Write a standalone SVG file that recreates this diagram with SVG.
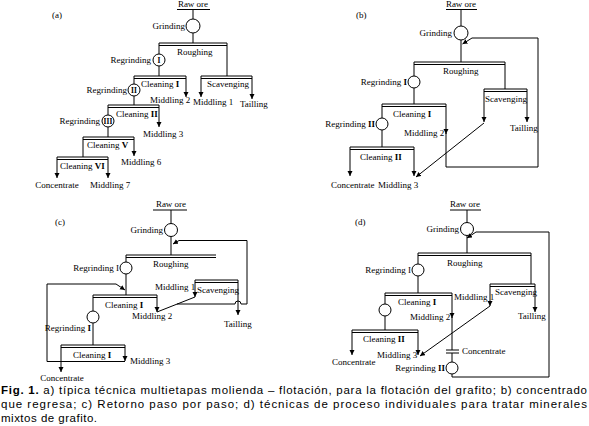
<svg xmlns="http://www.w3.org/2000/svg" width="589" height="426" viewBox="0 0 589 426">
<defs>
<marker id="ah" markerUnits="userSpaceOnUse" markerWidth="6" markerHeight="6" refX="5" refY="2.5" orient="auto"><path d="M0,0 L5,2.5 L0,5 z" fill="#000"/></marker>
<style>
.t{font-family:"Liberation Serif",serif;font-size:9px;fill:#000}
.e{text-anchor:end}
.m{text-anchor:middle}
.b{font-weight:bold}
.c{fill:#fff;stroke:#000;stroke-width:1}
.l{fill:none;stroke:#000;stroke-width:1}
.a{fill:none;stroke:#000;stroke-width:1;marker-end:url(#ah)}
.bar{fill:none;stroke:#000;stroke-width:1.1}
.n{font-family:"Liberation Serif",serif;font-size:7.5px;font-weight:bold;text-anchor:middle}
.cap{font-family:"Liberation Sans",Arial,sans-serif;font-size:11.5px;fill:#000}
</style>
</defs>
<rect width="589" height="426" fill="#fff"/>

<!-- Panel (a) -->
<g id="panel-a">
<text class="t" x="52" y="18">(a)</text>
<g id="a-raw"><text class="t m" x="193" y="7">Raw ore</text><path class="l" d="M177,9.5H210"/></g>
<g id="a-grinding"><circle class="c" cx="193" cy="26" r="7"/><text class="t e" x="185" y="29">Grinding</text></g>
<g id="a-roughing"><path class="bar" d="M159,43H227M159,45.5H227"/><text class="t" x="177" y="55">Roughing</text></g>
<g id="a-regrind1"><circle class="c" cx="159" cy="60" r="6"/><text class="n" x="159" y="62.7">I</text><text class="t e" x="151" y="63">Regrinding</text></g>
<g id="a-clean1"><path class="bar" d="M134,76H186M134,78.5H186"/><text class="t" x="141" y="87">Cleaning <tspan class="b">I</tspan></text></g>
<g id="a-scav"><path class="bar" d="M201,76H252M201,78.5H252"/><text class="t" x="207" y="87">Scavenging</text></g>
<g id="a-regrind2"><circle class="c" cx="134" cy="90" r="6"/><text class="n" x="134" y="92.7">II</text><text class="t e" x="127" y="93">Regrinding</text></g>
<g id="a-clean2"><path class="bar" d="M108,105H159M108,107.5H159"/><text class="t" x="116" y="117">Cleaning <tspan class="b">II</tspan></text></g>
<g id="a-regrind3"><circle class="c" cx="108" cy="121" r="6"/><text class="n" x="108" y="123.7">III</text><text class="t e" x="100" y="124">Regrinding</text></g>
<g id="a-clean5"><path class="bar" d="M83,137H134M83,139.5H134"/><text class="t" x="87" y="148">Cleaning <tspan class="b">V</tspan></text></g>
<g id="a-clean6"><path class="bar" d="M57,157H108M57,159.5H108"/><text class="t" x="60" y="169">Cleaning <tspan class="b">VI</tspan></text></g>
<g id="a-labels">
<text class="t" x="193" y="105">Middling 1</text>
<text class="t" x="240" y="107">Tailling</text>
<text class="t" x="150" y="103">Middling 2</text>
<text class="t" x="143" y="137">Middling 3</text>
<text class="t" x="121" y="165">Middling 6</text>
<text class="t m" x="57" y="188">Concentrate</text>
<text class="t" x="90" y="188">Middling 7</text>
</g>
<g id="a-connectors">
<path class="l" d="M193,9.5V19M193,33V43M159,43V54M159,66V76M227,43V76M134,76V84M134,96V105M108,105V115M108,127V137M83,137V157"/>
<path class="a" d="M186,76V97"/><path class="a" d="M201,76V97"/><path class="a" d="M252,76V99"/>
<path class="a" d="M159,105V127"/><path class="a" d="M134,137V156"/>
<path class="a" d="M57,157V178"/><path class="a" d="M108,157V178"/>
</g>
</g>

<!-- Panel (b) -->
<g id="panel-b">
<text class="t" x="356" y="18">(b)</text>
<g id="b-raw"><text class="t m" x="461" y="7">Raw ore</text><path class="l" d="M446,9.5H477"/></g>
<g id="b-grinding"><circle class="c" cx="461" cy="33" r="7"/><text class="t e" x="452" y="36">Grinding</text></g>
<g id="b-roughing"><path class="bar" d="M414,62H505M414,64.5H505"/><text class="t" x="443" y="74">Roughing</text></g>
<g id="b-regrind1"><circle class="c" cx="414" cy="82" r="6"/><text class="t e" x="407" y="85">Regrinding <tspan class="b">I</tspan></text></g>
<g id="b-clean1"><path class="bar" d="M382,104H446M382,106.5H446"/><text class="t" x="393" y="117">Cleaning <tspan class="b">I</tspan></text></g>
<g id="b-scav"><path class="bar" d="M484,89H527M484,91.5H527"/><text class="t" x="485" y="102">Scavenging</text></g>
<g id="b-regrind2"><circle class="c" cx="382" cy="124" r="6"/><text class="t e" x="375" y="127">Regrinding <tspan class="b">II</tspan></text></g>
<g id="b-clean2"><path class="bar" d="M350,147H414M350,149.5H414"/><text class="t" x="360" y="160">Cleaning <tspan class="b">II</tspan></text></g>
<g id="b-labels">
<text class="t" x="404" y="136">Middling 2</text>
<text class="t" x="510" y="131">Tailling</text>
<text class="t" x="331" y="188">Concentrate</text>
<text class="t" x="378" y="188">Middling 3</text>
</g>
<g id="b-connectors">
<path class="l" d="M461,9.5V26M461,40V62M414,62V76M414,88V104M505,62V89M382,104V118M382,130V147"/>
<path class="a" d="M446,104V134"/>
<path class="l" d="M446,133V167H538V38H472"/><path class="a" d="M472,38L462.5,44"/>
<path class="a" d="M484,89V122"/><path class="a" d="M527,89V122"/>
<path class="a" d="M484,123L416,177"/>
<path class="a" d="M350,147V176"/><path class="a" d="M414,147V176"/>
</g>
</g>

<!-- Panel (c) -->
<g id="panel-c">
<text class="t" x="55" y="225">(c)</text>
<g id="c-raw"><text class="t m" x="171" y="207">Raw ore</text><path class="l" d="M153,210H187"/></g>
<g id="c-grinding"><circle class="c" cx="171" cy="230" r="6.5"/><text class="t e" x="163" y="233">Grinding</text></g>
<g id="c-roughing"><path class="bar" d="M126,255H216M126,257.5H216"/><text class="t" x="153" y="267">Roughing</text></g>
<g id="c-regrind1"><circle class="c" cx="126" cy="268" r="6"/><text class="t e" x="119" y="271">Regrinding I</text></g>
<g id="c-scav"><path class="bar" d="M195,280H238M195,282.5H238"/><text class="t" x="197" y="293">Scavenging</text></g>
<g id="c-clean1"><path class="bar" d="M93,295H157M93,297.5H157"/><text class="t" x="105" y="308">Cleaning <tspan class="b">I</tspan></text></g>
<g id="c-regrind2"><circle class="c" cx="93" cy="317" r="6"/><text class="t e" x="91" y="331">Regrinding <tspan class="b">I</tspan></text></g>
<g id="c-clean2"><path class="bar" d="M61,345H125M61,347.5H125"/><text class="t" x="73" y="358">Cleaning <tspan class="b">I</tspan></text></g>
<g id="c-labels">
<text class="t" x="155" y="290">Middling 1</text>
<text class="t" x="132" y="319">Middling 2</text>
<text class="t" x="224" y="327">Tailling</text>
<text class="t" x="130" y="364">Middling 3</text>
<text class="t m" x="62" y="381">Concentrate</text>
</g>
<g id="c-connectors">
<path class="l" d="M171,210V223.5M171,236.5V255M126,255V262M126,274V295M93,295V311M93,323V345"/>
<path class="a" d="M179,240.5L173,244"/>
<path class="l" d="M179,240.5H247V304H241A3,3 0 0 0 235,304H177"/>
<path class="a" d="M195,280V297"/><path class="a" d="M238,280V315"/>
<path class="a" d="M157,295V312"/>
<path class="l" d="M157,312L195,297"/>
<path class="a" d="M125,345V361"/><path class="a" d="M61,345V372"/>
<path class="l" d="M125,361.5H47V284H116"/><path class="a" d="M116,284L125,290"/>
</g>
</g>

<!-- Panel (d) -->
<g id="panel-d">
<text class="t" x="355" y="225">(d)</text>
<g id="d-raw"><text class="t m" x="465" y="207">Raw ore</text><path class="l" d="M450,210H481"/></g>
<g id="d-grinding"><circle class="c" cx="467" cy="229" r="6.5"/><text class="t e" x="459" y="232">Grinding</text></g>
<g id="d-roughing"><path class="bar" d="M418,253H531M418,255.5H531"/><text class="t" x="447" y="266">Roughing</text></g>
<g id="d-regrind1"><circle class="c" cx="418" cy="270" r="6"/><text class="t e" x="411" y="273">Regrinding I</text></g>
<g id="d-scav"><path class="bar" d="M490,284H535M490,286.5H535"/><text class="t" x="495" y="295">Scavenging</text></g>
<g id="d-clean1"><path class="bar" d="M385,293H452M385,295.5H452"/><text class="t" x="398" y="305">Cleaning <tspan class="b">I</tspan></text></g>
<g id="d-regrind-a"><circle class="c" cx="385" cy="310" r="6"/></g>
<g id="d-clean2"><path class="bar" d="M352,330H418M352,332.5H418"/><text class="t" x="363" y="342">Cleaning <tspan class="b">II</tspan></text></g>
<g id="d-regrind2"><circle class="c" cx="452" cy="368" r="6"/><text class="t e" x="445" y="371">Regrinding <tspan class="b">II</tspan></text></g>
<g id="d-labels">
<text class="t" x="454" y="300">Middling 1</text>
<text class="t" x="410" y="320">Middling 2</text>
<text class="t" x="518" y="319">Tailling</text>
<text class="t" x="462" y="354">Concentrate</text>
<text class="t" x="377" y="358">Middling 3</text>
<text class="t" x="332" y="365">Concentrate</text>
</g>
<g id="d-connectors">
<path class="l" d="M467,210V222.5M467,235.5V253M418,253V264M418,276V293M531,253V284M385,293V304M385,316V330"/>
<path class="a" d="M452,293V318"/>
<path class="l" d="M452,317V350M446,350H459M446,353H459M452,353V362"/>
<path class="a" d="M490,284V306"/><path class="a" d="M535,284V312"/>
<path class="a" d="M490,306L420,356"/>
<path class="a" d="M352,330V355"/><path class="a" d="M418,330V355"/>
<path class="l" d="M452,374V377H549V232H476"/><path class="a" d="M476,232L467,238"/>
</g>
</g>

<!-- Caption -->
<g id="caption">
<text class="cap" x="1" y="394" textLength="586" lengthAdjust="spacing"><tspan font-weight="bold">Fig. 1.</tspan> a) típica técnica multietapas molienda – flotación, para la flotación del grafito; b) concentrado</text>
<text class="cap" x="1" y="408" textLength="586" lengthAdjust="spacing">que regresa; c) Retorno paso por paso; d) técnicas de proceso individuales para tratar minerales</text>
<text class="cap" x="1" y="422" textLength="96" lengthAdjust="spacing">mixtos de grafito.</text>
</g>
</svg>
